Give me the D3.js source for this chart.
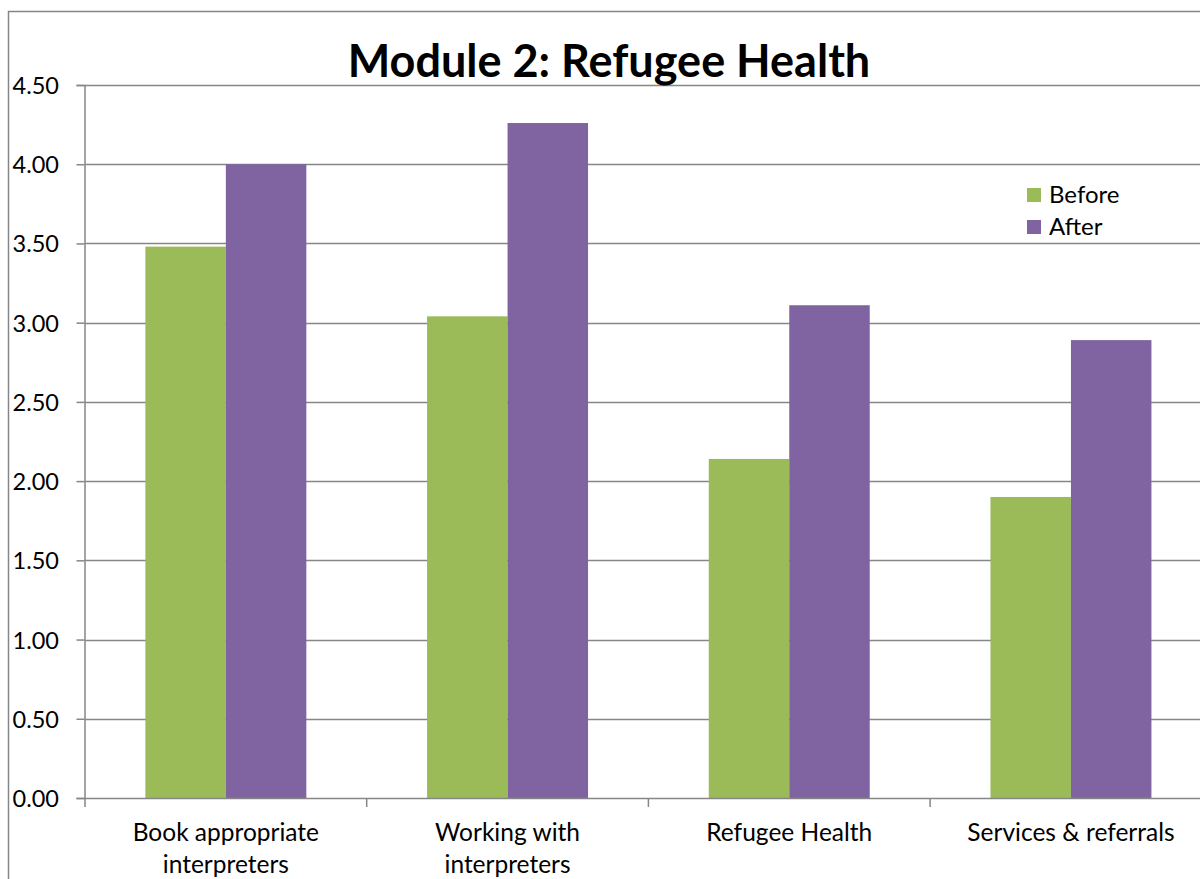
<!DOCTYPE html>
<html><head><meta charset="utf-8">
<script src="https://cdn.jsdelivr.net/npm/d3@7"></script>
<style>body{margin:0;background:#fff}svg{display:block}text{font-family:Lato,"Open Sans",sans-serif;fill:#000}</style>
</head><body>
<svg id="c" width="1200" height="879"></svg>
<script>
const categories = [["Book appropriate","interpreters"],["Working with","interpreters"],["Refugee Health"],["Services & referrals"]];
const seriesNames = ["Before","After"];
const before = [3.48, 3.04, 2.14, 1.90];
const after = [4.00, 4.26, 3.11, 2.89];
const yTicks = [0,0.5,1,1.5,2,2.5,3,3.5,4,4.5];
const colors = ["#9BBB59","#8064A2"];
const title = "Module 2: Refugee Health";

const svg = d3.select("#c");
const catKeys = categories.map((c,i)=>i);
const x0 = d3.scaleBand().domain(catKeys).range([85, 85+4*281.7]).paddingInner(0).paddingOuter(0);
const x1 = d3.scaleBand().domain(seriesNames).range([0, x0.bandwidth()]).paddingInner(0).paddingOuter(0.75);
const y = d3.scaleLinear().domain([0,4.5]).range([798,85]);

// frame
svg.append("rect").attr("x",8.5).attr("y",11.5).attr("width",1300).attr("height",1000)
  .attr("fill","none").attr("stroke","#868686").attr("stroke-width",1.5);

const yAxis = d3.axisLeft(y).tickValues(yTicks).tickFormat(d3.format(".2f")).tickSize(8).tickPadding(18);
const gy = svg.append("g").attr("transform","translate(84.5,0)").call(yAxis);
gy.selectAll(".tick line").attr("stroke","#868686").attr("stroke-width",1.5);
gy.select(".domain").attr("stroke","#868686").attr("stroke-width",1.5);
gy.selectAll(".tick text").attr("font-size",23.5).attr("font-family","Lato").attr("fill","#000").attr("text-anchor","start").attr("x",-72).attr("dy","0.36em");

svg.append("g").selectAll("line").data(yTicks.filter(d=>d>0)).join("line")
  .attr("x1",85).attr("x2",1200).attr("y1",d=>Math.round(y(d))+0.5).attr("y2",d=>Math.round(y(d))+0.5)
  .attr("stroke","#868686").attr("stroke-width",1.5);

// bars
const data = catKeys.map(i=>({i, vals:[before[i],after[i]]}));
const g = svg.append("g").selectAll("g").data(data).join("g").attr("transform",d=>`translate(${x0(d.i)},0)`);
g.selectAll("rect").data(d=>d.vals.map((v,k)=>({k,v}))).join("rect")
  .attr("x",d=>x1(seriesNames[d.k])).attr("width",x1.bandwidth())
  .attr("y",d=>y(d.v)).attr("height",d=>y(0)-y(d.v)).attr("fill",d=>colors[d.k]);

// x axis
svg.append("line").attr("x1",85).attr("x2",1200).attr("y1",798.5).attr("y2",798.5).attr("stroke","#868686").attr("stroke-width",1.5);
svg.append("g").selectAll("line").data(catKeys).join("line")
  .attr("x1",d=>x0(d)).attr("x2",d=>x0(d)).attr("y1",798).attr("y2",807).attr("stroke","#868686").attr("stroke-width",1.5);
const lab = svg.append("g").selectAll("text").data(data).join("text")
  .attr("x",d=>x0(d.i)+x0.bandwidth()/2).attr("y",841).attr("text-anchor","middle").attr("font-size",24.5);
lab.selectAll("tspan").data(d=>categories[d.i].map((t,j)=>({t,j,x:x0(d.i)+x0.bandwidth()/2}))).join("tspan")
  .attr("x",d=>d.x).attr("dy",d=>d.j?32:0).text(d=>d.t);

// title
svg.append("text").attr("x",609).attr("y",77).attr("text-anchor","middle").attr("font-size",45).attr("font-weight",700).text(title);

// legend
const lg = svg.append("g").selectAll("g").data(seriesNames).join("g").attr("transform",(d,i)=>`translate(1027,${188+i*32})`);
lg.append("rect").attr("width",14).attr("height",14).attr("fill",(d,i)=>colors[i]);
lg.append("text").attr("x",22).attr("y",15).attr("font-size",24).text(d=>d);
</script>
</body></html>
